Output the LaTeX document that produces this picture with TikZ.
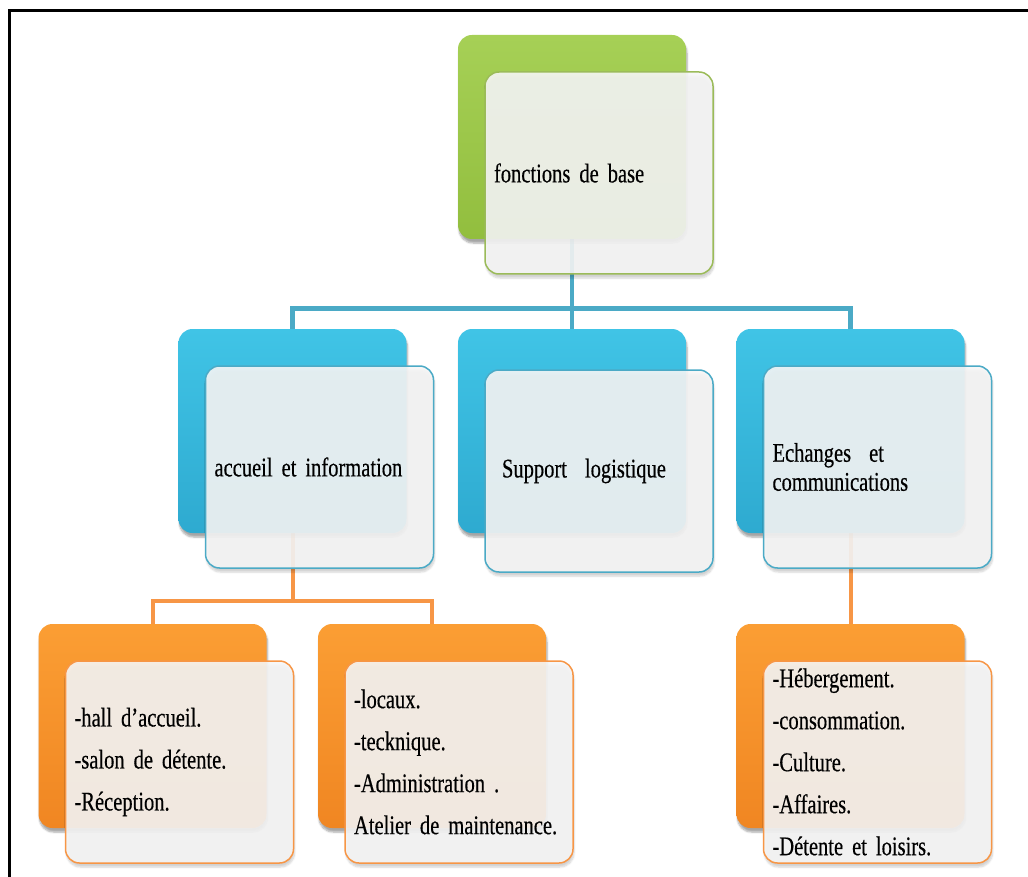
\documentclass[tikz,border=0pt]{standalone}
\usepackage{fontspec}
\setmainfont{Liberation Serif}[FakeStretch=0.76, FakeBold=0.4]
\usetikzlibrary{positioning,calc,backgrounds,shadows.blur}

\definecolor{grnTop}{RGB}{166,208,86}
\definecolor{grnBot}{RGB}{146,190,62}
\definecolor{grnLine}{RGB}{155,187,89}
\definecolor{bluTop}{RGB}{64,196,230}
\definecolor{bluBot}{RGB}{46,170,208}
\definecolor{bluLine}{RGB}{75,170,198}
\definecolor{orgTop}{RGB}{251,158,52}
\definecolor{orgBot}{RGB}{240,134,34}
\definecolor{orgLine}{RGB}{247,150,70}

% narrow word spaces in the cards
\newcommand{\boxfont}{\fontsize{27}{29}\selectfont\spaceskip=4.5pt plus 1pt\relax}
\newcommand{\itemsfont}{\fontsize{27}{42}\selectfont\spaceskip=4.5pt plus 1pt\relax}

\begin{document}
\begin{tikzpicture}[x=1pt, y=-1pt, thick]
% Definition of boxes:
\tikzset{%
  block/.style = {rectangle, rounded corners=14pt, minimum width=228pt, minimum height=204pt,
                  top color=#1Top, bottom color=#1Bot,
                  blur shadow={shadow xshift=1pt, shadow yshift=-4pt, shadow opacity=35, shadow blur steps=6}}, % coloured box behind
  card/.style  = {rectangle, rounded corners=14pt, draw=#1Line, line width=1.5pt,
                  minimum width=228pt, minimum height=202pt, text width=210pt, inner xsep=9pt, align=left,
                  fill=gray!7, fill opacity=0.9, text opacity=1, font=\boxfont,
                  blur shadow={shadow xshift=1pt, shadow yshift=-4pt, shadow opacity=20, shadow blur steps=6}}, % text card
  list/.style  = {font=\itemsfont},
  link/.style  = {draw=#1Line, line width=4.5pt}
}
\useasboundingbox (0,0) rectangle (1028,877);
\draw[line width=3pt] (9.5,877) -- (9.5,11) -- (1028,11);

% back blocks
\node [block=grn] (baseB) at (572,137) {};
\node [block=blu] (accB) at (292.5,431) {};
\node [block=blu] (supB) at (572,431) {};
\node [block=blu] (echB) at (850.5,431) {};
\node [block=org] (hallB) at (152.5,726) {};
\node [block=org] (locB) at (432,726) {};
\node [block=org] (hebB) at (850.5,726) {};

% cards
\node [card=grn] (base) at ($(baseB)+(27,36)$) {fonctions de base};
\node [card=blu] (acc) at ($(accB)+(27,36)$) {accueil et information};
\node [card=blu] (sup) at ($(supB)+(27,40)$) {\hspace*{8pt}Support\ \ logistique};
\node [card=blu] (ech) at ($(echB)+(27,36)$) {Echanges\ \ et\\communications};
\node [card=org, list] (hall) at ($(hallB)+(27,36)$) {-hall d'accueil.\\-salon de détente.\\-Réception.};
\node [card=org, list] (loc) at ($(locB)+(27,36)$) {-locaux.\\-tecknique.\\-Administration .\\Atelier de maintenance.};
\node [card=org, list] (heb) at ($(hebB)+(27,36)$) {-Hébergement.\\-consommation.\\-Culture.\\-Affaires.\\-Détente et loisirs.};

% connectors
\begin{pgfonlayer}{background}
  \coordinate (fork1) at ($(baseB.south)+(0,69)$);
  \coordinate (fork2) at ($(accB.south)+(0,68)$);
  \draw[link=blu] (baseB.south) -- (fork1) -| (accB.north);
  \draw[link=blu] (fork1) -| (echB.north);
  \draw[link=blu] (fork1) -- (supB.north);
  \draw[link=org, line width=4pt] (accB.south) -- (fork2) -| (hallB.north);
  \draw[link=org, line width=4pt] (fork2) -| (locB.north);
  \draw[link=org, line width=4pt] (echB.south) -- (hebB.north);
\end{pgfonlayer}
\end{tikzpicture}
\end{document}
